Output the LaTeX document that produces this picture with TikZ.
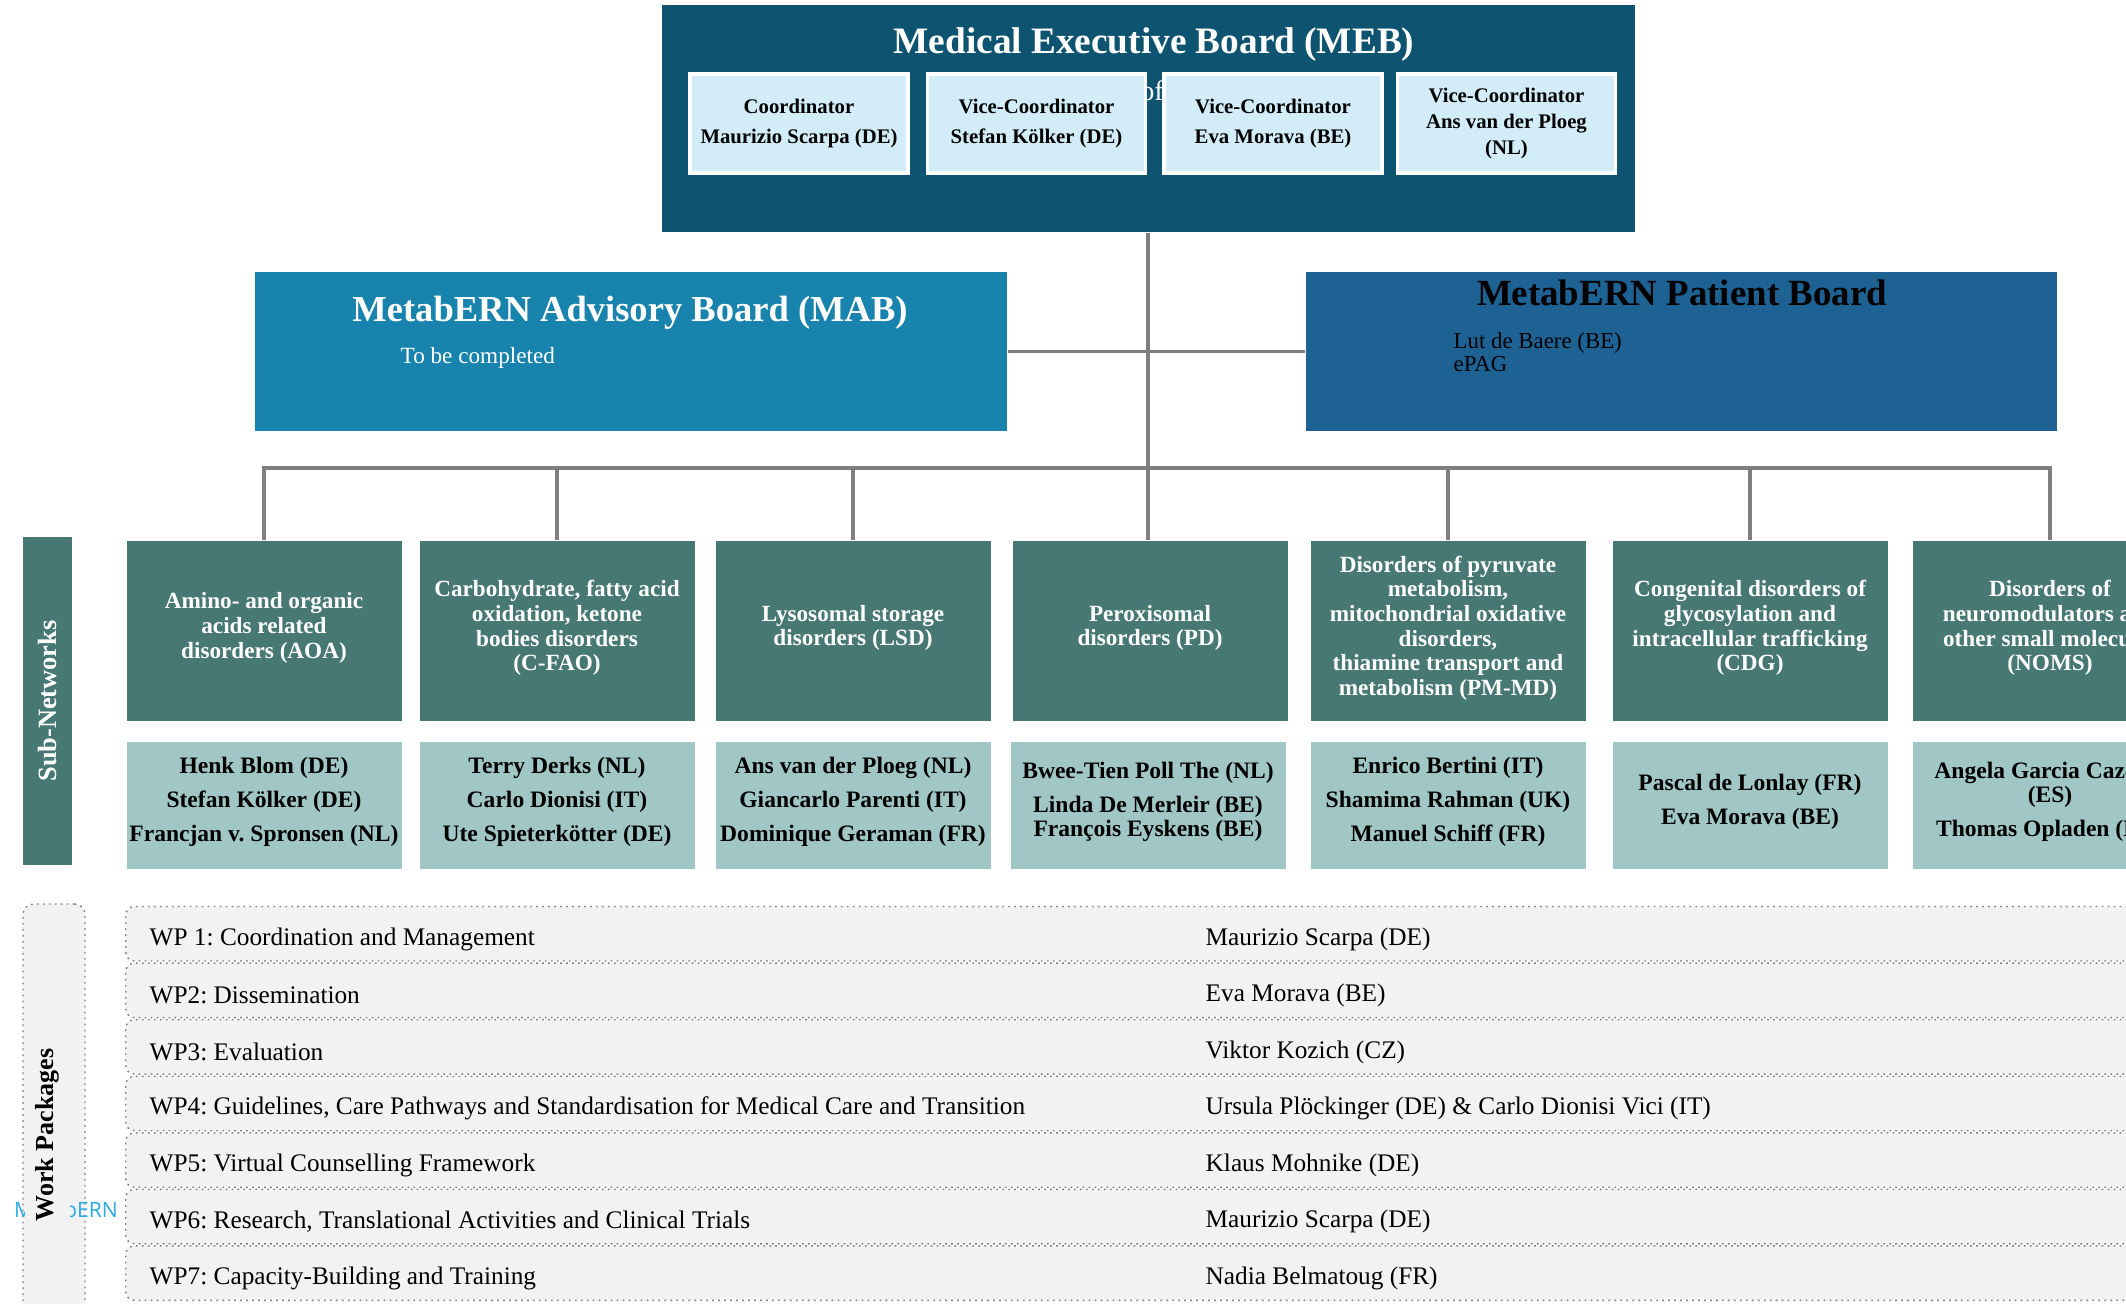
\documentclass[tikz,border=0pt]{standalone}
\usepackage{fontspec}
\setmainfont{Liberation Serif}
\newfontfamily\logofont{Open Sans}
\frenchspacing

% Colours used in the chart
\definecolor{r14g84b112}{RGB}{14,84,112}
\definecolor{r210g236b248}{RGB}{210,236,248}
\definecolor{r24g131b172}{RGB}{24,131,172}
\definecolor{r30g98b148}{RGB}{30,98,148}
\definecolor{r72g120b116}{RGB}{72,120,116}
\definecolor{r160g198b197}{RGB}{160,198,197}
\definecolor{r242g242b242}{RGB}{242,242,242}
\definecolor{r127g127b127}{RGB}{127,127,127}
\definecolor{r41g171b226}{RGB}{41,171,226}

\begin{document}
\begin{tikzpicture}[
  board/.style={rectangle, inner sep=0pt},
  chairbox/.style={rectangle, draw=white, line width=1pt, fill=r210g236b248,
    minimum width=2.18cm, minimum height=0.99cm, inner sep=0pt, align=center,
    font=\fontsize{5.9}{7.4}\selectfont\bfseries},
  netbox/.style={rectangle, fill=r72g120b116, minimum width=2.75cm,
    minimum height=1.80cm, inner sep=0pt},
  nettext/.style={align=center, inner sep=0pt, text=white,
    font=\fontsize{6.6}{7}\selectfont\bfseries},
  namebox/.style={rectangle, fill=r160g198b197, minimum width=2.75cm,
    minimum height=1.27cm, inner sep=0pt},
  nametext/.style={align=center, inner sep=0pt,
    font=\fontsize{6.7}{6.9}\selectfont\bfseries},
  wprow/.style={rectangle, rounded corners=2.5pt, draw=r127g127b127,
    line width=0.4pt, dash pattern=on 0.5pt off 1.2pt, fill=r242g242b242,
    minimum width=21cm, minimum height=0.545cm, inner sep=0pt, anchor=north west},
  wptext/.style={anchor=west, inner sep=0pt, font=\fontsize{7.2}{8}\selectfont},
  link/.style={draw=r127g127b127, line width=0.9pt},
]
% \clip to the visible part of the chart
\useasboundingbox (0,0) rectangle (21.26,-13.04);
\clip (0,0) rectangle (21.26,-13.04);
\fill[white] (0,0) rectangle (21.26,-13.04);

% Drawing the Medical Executive Board
\node[board, fill=r14g84b112, minimum width=9.73cm, minimum height=2.27cm] (meb) at (11.48,-1.185) {};
\node[anchor=base, inner sep=0pt, text=white, font=\fontsize{10.6}{12}\selectfont\bfseries] (mebtitle) at (11.54,-0.53) {Medical Executive Board (MEB)};
\node[anchor=base, inner sep=0pt, text=white, font=\fontsize{8}{9}\selectfont] (mebof) at (11.52,-1.00) {of};
\node[chairbox] (coord) at (7.99,-1.235) {Coordinator\\[1.3pt]Maurizio Scarpa (DE)};
\node[chairbox] (vicea) at (10.365,-1.235) {Vice-Coordinator\\[1.3pt]Stefan Kölker (DE)};
\node[chairbox] (viceb) at (12.73,-1.235) {Vice-Coordinator\\[1.3pt]Eva Morava (BE)};
\node[chairbox] (vicec) at (15.065,-1.235) {Vice-Coordinator\\Ans van der Ploeg\\(NL)};

% Drawing the Advisory Board and the Patient Board
\node[board, fill=r24g131b172, minimum width=7.52cm, minimum height=1.59cm] (mab) at (6.31,-3.515) {};
\node[anchor=base, inner sep=0pt, text=white, font=\fontsize{10.4}{12}\selectfont\bfseries] (mabtitle) at (6.30,-3.21) {MetabERN Advisory Board (MAB)};
\node[anchor=base west, inner sep=0pt, text=white, font=\fontsize{6.6}{7}\selectfont] (mabnote) at (4.00,-3.63) {To be completed};
\node[board, fill=r30g98b148, minimum width=7.51cm, minimum height=1.59cm] (patient) at (16.815,-3.515) {};
\node[anchor=base, inner sep=0pt, font=\fontsize{10.5}{12}\selectfont\bfseries] (patienttitle) at (16.82,-3.05) {MetabERN Patient Board};
\node[anchor=base west, inner sep=0pt, font=\fontsize{6.5}{7}\selectfont] (patientname) at (14.53,-3.48) {Lut de Baere (BE)};
\node[anchor=base west, inner sep=0pt, font=\fontsize{6.5}{7}\selectfont] (patientgroup) at (14.53,-3.71) {ePAG};

% Drawing the Sub-Networks
\node[rectangle, fill=r72g120b116, rotate=90, minimum width=3.28cm, minimum height=0.49cm, inner sep=0pt, text=white, font=\fontsize{7.5}{9}\selectfont\bfseries] (sublabel) at (0.475,-7.01) {Sub-Networks};

\node[netbox] (aoa) at (2.64,-6.31) {};
\node[nettext] (aoatitle) at ([yshift=0.03cm]aoa.center) {Amino- and organic\\acids related\\disorders (AOA)};
\node[netbox] (cfao) at (5.57,-6.31) {};
\node[nettext] (cfaotitle) at ([yshift=0.03cm]cfao.center) {Carbohydrate, fatty acid\\oxidation, ketone\\bodies disorders\\(C-FAO)};
\node[netbox] (lsd) at (8.53,-6.31) {};
\node[nettext] (lsdtitle) at ([yshift=0.03cm]lsd.center) {Lysosomal storage\\disorders (LSD)};
\node[netbox] (pd) at (11.50,-6.31) {};
\node[nettext] (pdtitle) at ([yshift=0.03cm]pd.center) {Peroxisomal\\disorders (PD)};
\node[netbox] (pmmd) at (14.48,-6.31) {};
\node[nettext] (pmmdtitle) at ([yshift=0.03cm]pmmd.center) {Disorders of pyruvate\\metabolism,\\mitochondrial oxidative\\disorders,\\thiamine transport and\\metabolism (PM-MD)};
\node[netbox] (cdg) at (17.50,-6.31) {};
\node[nettext] (cdgtitle) at ([yshift=0.03cm]cdg.center) {Congenital disorders of\\glycosylation and\\intracellular trafficking\\(CDG)};
\node[netbox] (noms) at (20.50,-6.31) {};
\node[nettext] (nomstitle) at ([yshift=0.03cm]noms.center) {Disorders of\\neuromodulators and\\other small molecules\\(NOMS)};

% Marking the sub-network leads
\node[namebox] (aoastaff) at (2.64,-8.055) {};
\node[nametext] (aoanames) at ([yshift=0.035cm]aoastaff.center) {Henk Blom (DE)\\[2.8pt]Stefan Kölker (DE)\\[2.8pt]Francjan v. Spronsen (NL)};
\node[namebox] (cfaostaff) at (5.57,-8.055) {};
\node[nametext] (cfaonames) at ([yshift=0.035cm]cfaostaff.center) {Terry Derks (NL)\\[2.8pt]Carlo Dionisi (IT)\\[2.8pt]Ute Spieterkötter (DE)};
\node[namebox] (lsdstaff) at (8.53,-8.055) {};
\node[nametext] (lsdnames) at ([yshift=0.035cm]lsdstaff.center) {Ans van der Ploeg (NL)\\[2.8pt]Giancarlo Parenti (IT)\\[2.8pt]Dominique Geraman (FR)};
\node[namebox] (pdstaff) at (11.48,-8.055) {};
\node[nametext] (pdnames) at ([yshift=0.035cm]pdstaff.center) {Bwee-Tien Poll The (NL)\\[2.8pt]Linda De Merleir (BE)\\François Eyskens (BE)};
\node[namebox] (pmmdstaff) at (14.48,-8.055) {};
\node[nametext] (pmmdnames) at ([yshift=0.035cm]pmmdstaff.center) {Enrico Bertini (IT)\\[2.8pt]Shamima Rahman (UK)\\[2.8pt]Manuel Schiff (FR)};
\node[namebox] (cdgstaff) at (17.50,-8.055) {};
\node[nametext] (cdgnames) at ([yshift=0.035cm]cdgstaff.center) {Pascal de Lonlay (FR)\\[2.8pt]Eva Morava (BE)};
\node[namebox] (nomsstaff) at (20.50,-8.055) {};
\node[nametext] (nomsnames) at ([yshift=0.035cm]nomsstaff.center) {Angela Garcia Cazorla\\(ES)\\[2.8pt]Thomas Opladen (DE)};

% Drawing the connectors
\coordinate (bus) at (11.50,-4.68);
\draw[link] (meb.south) -- (meb.south |- pd.north);
\draw[link] (mab.east) -- (patient.west);
\draw[link] (aoa.north) -- (aoa.north |- bus) -- (noms.north |- bus) -- (noms.north);
\draw[link] (cfao.north) -- (cfao.north |- bus);
\draw[link] (lsd.north) -- (lsd.north |- bus);
\draw[link] (pmmd.north) -- (pmmd.north |- bus);
\draw[link] (cdg.north) -- (cdg.north |- bus);

% Drawing the Work Packages
\node[rectangle, rounded corners=3pt, draw=r127g127b127, line width=0.4pt, dash pattern=on 0.5pt off 1.2pt, fill=r242g242b242, minimum width=0.62cm, minimum height=4.62cm, inner sep=0pt] (wplabelbox) at (0.54,-11.35) {};
\node[inner sep=0pt, text=r41g171b226, font=\logofont\fontsize{6}{7}\selectfont] (logo) at (0.66,-12.10) {MetabERN};
\node[rectangle, rotate=90, fill=r242g242b242, minimum width=4.2cm, minimum height=0.45cm, inner sep=0pt, font=\fontsize{7.4}{9}\selectfont\bfseries] (wplabel) at (0.475,-11.35) {Work Packages};

\node[wprow] (wprowa) at (1.25,-9.058) {};
\node[wprow] (wprowb) at (1.25,-9.624) {};
\node[wprow] (wprowc) at (1.25,-10.189) {};
\node[wprow] (wprowd) at (1.25,-10.755) {};
\node[wprow] (wprowe) at (1.25,-11.321) {};
\node[wprow] (wprowf) at (1.25,-11.886) {};
\node[wprow] (wprowg) at (1.25,-12.452) {};

\node[wptext] (wpa) at (1.49,-9.39) {WP 1: Coordination and Management};
\node[wptext] (wpb) at (1.49,-9.955) {WP2: Dissemination};
\node[wptext] (wpc) at (1.49,-10.52) {WP3: Evaluation};
\node[wptext] (wpd) at (1.49,-11.087) {WP4: Guidelines, Care Pathways and Standardisation for Medical Care and Transition};
\node[wptext] (wpe) at (1.49,-11.652) {WP5: Virtual Counselling Framework};
\node[wptext] (wpf) at (1.49,-12.218) {WP6: Research, Translational Activities and Clinical Trials};
\node[wptext] (wpg) at (1.49,-12.784) {WP7: Capacity-Building and Training};

\node[wptext] (wpalead) at (12.05,-9.39) {Maurizio Scarpa (DE)};
\node[wptext] (wpblead) at (12.05,-9.955) {Eva Morava (BE)};
\node[wptext] (wpclead) at (12.05,-10.52) {Viktor Kozich (CZ)};
\node[wptext] (wpdlead) at (12.05,-11.087) {Ursula Plöckinger (DE) \& Carlo Dionisi Vici (IT)};
\node[wptext] (wpelead) at (12.05,-11.652) {Klaus Mohnike (DE)};
\node[wptext] (wpflead) at (12.05,-12.218) {Maurizio Scarpa (DE)};
\node[wptext] (wpglead) at (12.05,-12.784) {Nadia Belmatoug (FR)};
\end{tikzpicture}
\end{document}
